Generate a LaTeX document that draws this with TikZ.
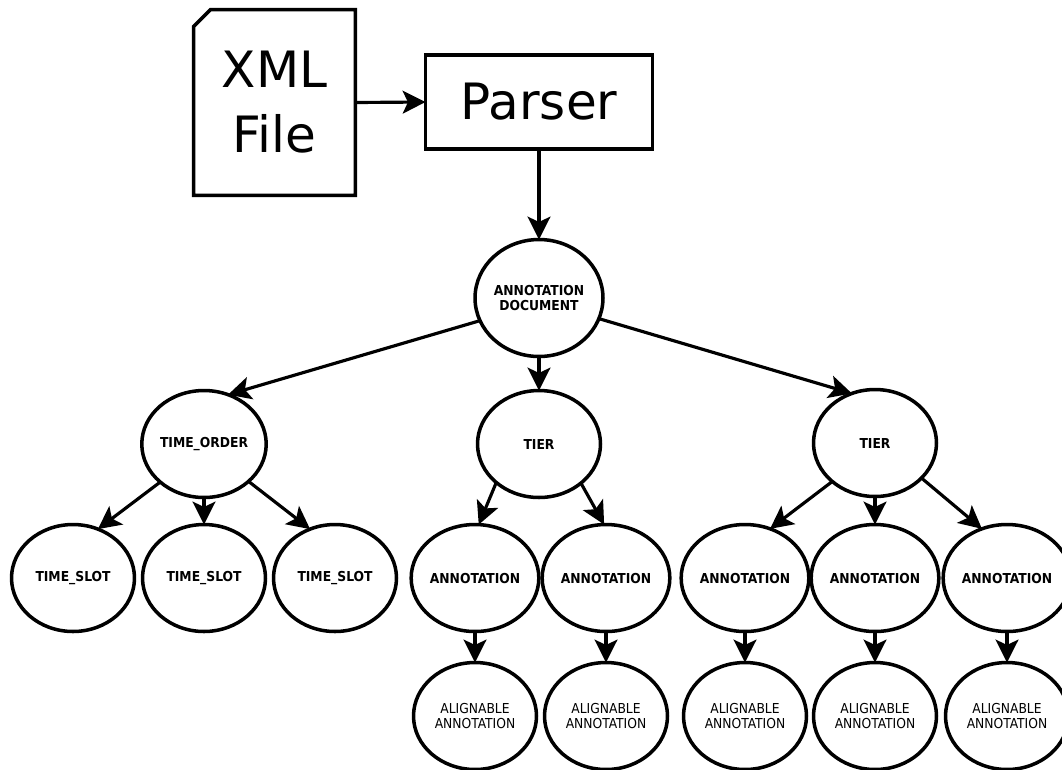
\documentclass[tikz,border=0pt]{standalone}
\usepackage{fontspec}
\setmainfont{DejaVu Sans}
\newfontfamily\condfont{DejaVu Sans Condensed}
\usetikzlibrary{arrows.meta,shapes.geometric}

\tikzset{
  elem/.style={ellipse, draw, line width=2pt, inner sep=0pt, outer sep=0pt,
    minimum width=2.46cm, minimum height=2.14cm, align=center,
    font=\condfont\bfseries\fontsize{7.8}{8.5}\selectfont},
  leaf/.style={elem, font=\condfont\fontsize{7.8}{8}\selectfont},
  bigbox/.style={line width=2pt, inner sep=0pt, outer sep=0pt, align=center,
    font=\fontsize{28.5}{37}\selectfont},
  link/.style={->, line width=1.8pt},
}

\begin{document}
\begin{tikzpicture}[x=0.02cm, y=-0.02cm, >={Stealth[length=13pt,width=13pt,inset=3pt]}]
        \useasboundingbox (0,0) rectangle (1062,769);
        % 文件与解析器
        \node[bigbox, minimum width=3.24cm, minimum height=3.72cm] (xml) at (274.5,102.5) {XML\\File};
        \draw[line width=2pt] ([yshift=-0.34cm]xml.north west) -- ([xshift=0.34cm]xml.north west)
            -- (xml.north east) -- (xml.south east) -- (xml.south west) -- cycle;
        \node[bigbox, draw, minimum width=4.54cm, minimum height=1.88cm] (parser) at (539,102) {Parser};
        \draw[link] (xml.east) -- (parser.west);

        % 第一层
        \node[elem, minimum width=2.56cm, minimum height=2.34cm] (doc) at (539,298) {ANNOTATION\\DOCUMENT};
        \draw[link] (parser.south) -- (doc.north);

        \node[elem] (tord) at (204,444) {TIME\_ORDER};
        \node[elem] (tierA) at (539,444) {TIER};
        \node[elem] (tierB) at (875,443) {TIER};
        \draw[link] (doc.-159) -- (tord.64);
        \draw[link] (doc.south) -- (tierA.north);
        \draw[link] (doc.-19) -- (tierB.115);

        % 第二层
        \node[elem] (slot1) at (73,578) {TIME\_SLOT};
        \node[elem] (slot2) at (204,578) {TIME\_SLOT};
        \node[elem] (slot3) at (335,578) {TIME\_SLOT};
        \draw[link] (tord.-139) -- (slot1.63);
        \draw[link] (tord.south) -- (slot2.north);
        \draw[link] (tord.-40) -- (slot3.117);

        \node[elem] (annA1) at (475,578) {ANNOTATION};
        \node[elem] (annA2) at (606,578) {ANNOTATION};
        \draw[link] (tierA.-138) -- (annA1.86);
        \draw[link] (tierA.-43) -- (annA2.92);

        \node[elem] (annB1) at (745,578) {ANNOTATION};
        \node[elem] (annB2) at (875,578) {ANNOTATION};
        \node[elem] (annB3) at (1007,578) {ANNOTATION};
        \draw[link] (tierB.-138) -- (annB1.63);
        \draw[link] (tierB.south) -- (annB2.north);
        \draw[link] (tierB.-37) -- (annB3.117);

        % 第三层
        \foreach \name/\x in {A1/475, A2/606, B1/745, B2/875, B3/1007} {
            \node[leaf] (alig\name) at (\x,716) {ALIGNABLE\\ANNOTATION};
            \draw[link] (ann\name.south) -- (alig\name.north);
        }
    \end{tikzpicture}
\end{document}
